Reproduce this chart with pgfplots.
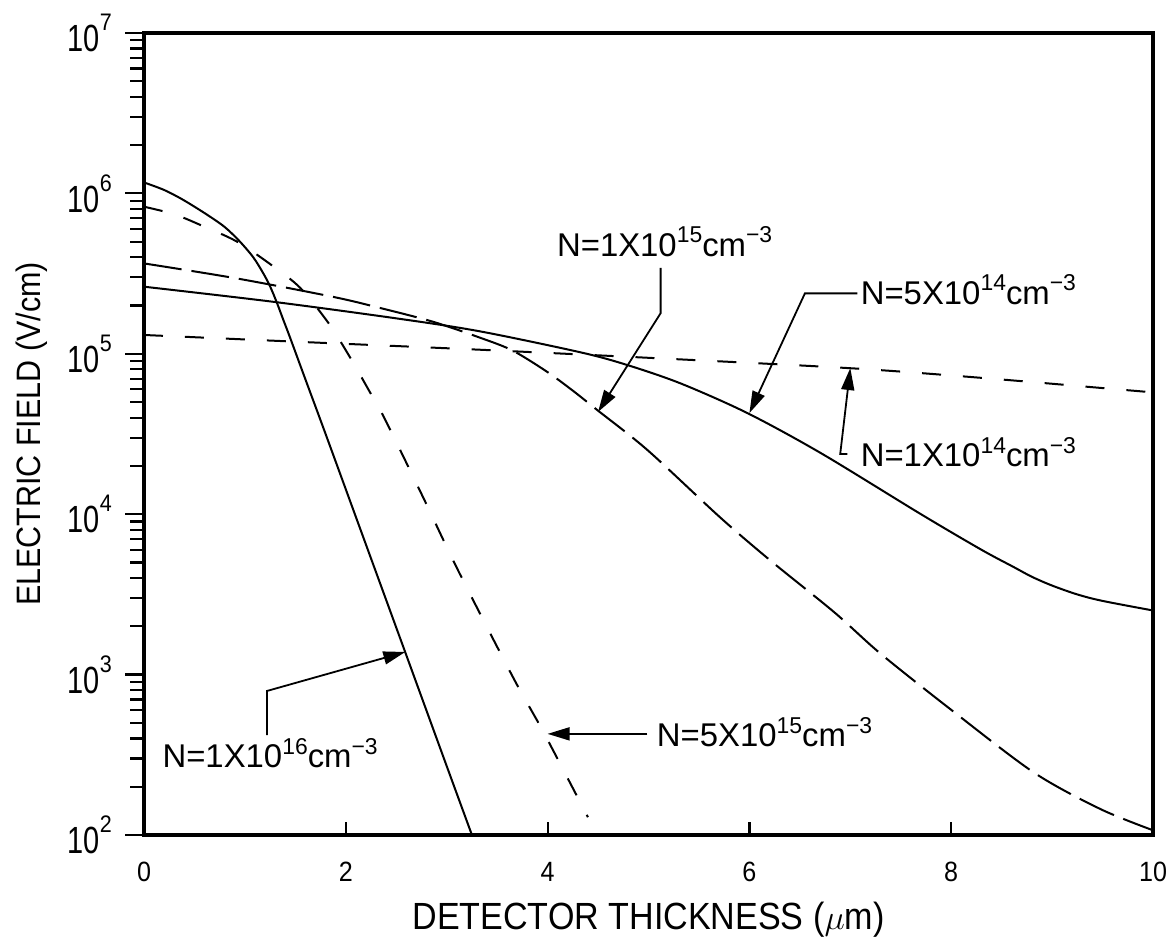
\documentclass[border=0pt]{standalone}
\usepackage{pgfplots}
\pgfplotsset{compat=1.18}
\usepackage{fontspec}
\setmainfont{Liberation Sans}[FakeStretch=0.9]
\newfontfamily\annotfont{Liberation Sans}
\usetikzlibrary{arrows.meta}
\tikzset{arr/.style={line width=0.9bp, -{Triangle[length=11bp,width=6.5bp]}}}
\newcommand{\supx}[1]{\raisebox{0.42em}{\fontsize{11.5}{12}\selectfont #1}}
\newcommand{\tp}[1]{\scalebox{0.85}[1]{10}\raisebox{10.5bp}{\fontsize{12}{12}\selectfont #1}}
\newcommand{\annot}{\annotfont\fontsize{16.5}{19}\selectfont}
\begin{document}
\begin{tikzpicture}
\begin{axis}[
  scale only axis, width=504.5bp, height=401bp,
  xmin=0, xmax=10, ymin=1e2, ymax=1e7, ymode=log,
  clip=false,
  axis line style={line width=1.7bp},
  every tick/.style={black, line width=1.1bp},
  xtick={0,2,4,6,8,10}, xticklabels={0,2,4,6,8,10},
  ytick={1e2,1e3,1e4,1e5,1e6,1e7},
  yticklabels={\tp{2},\tp{3},\tp{4},\tp{5},\tp{6},\tp{7}},
  xtick align=inside, ytick align=outside,
  xtick pos=left, ytick pos=left,
  major tick length=9.5bp, minor tick length=7bp,
  xtick style={/pgfplots/major tick length=6.5bp},
  xticklabel style={font=\fontsize{14}{16}\selectfont, yshift=-10.2bp},
  yticklabel style={font=\fontsize{19}{22}\selectfont, anchor=east, xshift=-3bp},
  xlabel={DETECTOR THICKNESS ($\mu$m)},
  ylabel={ELECTRIC FIELD (V/cm)},
  xlabel style={font=\fontsize{19}{22}\selectfont, at={(axis description cs:0.5,0)}, anchor=base, yshift=-47.5bp},
  ylabel style={font=\fontsize{17}{20}\selectfont, at={(axis description cs:-0.103,0.5)}, anchor=base},
]
% N = 1e16 (solid)
\addplot[black, line width=1bp, smooth, tension=0.5] coordinates {
(0,1.17e6) (0.2,1.05e6) (0.39,9.1e5) (0.62,7.4e5) (0.80,6.17e5) (0.95,5.01e5)
(1.085,3.98e5) (1.184,3.16e5) (1.25,2.63e5) (1.316,2.09e5) (1.382,1.62e5)
(1.448,1.26e5) (1.6,6.92e4) (1.8,3.16e4) (2.2,6.46e3)
(2.6,1.32e3) (3.0,269) (3.25,100)};
% N = 5e15 (short dashed)
\addplot[black, line width=1bp, smooth, tension=0.5, dash pattern=on 9.5bp off 11bp] coordinates {
(0,8.26e5) (0.3,7.41e5) (0.57,6.31e5) (0.92,5.01e5) (1.27,3.55e5) (1.55,2.57e5)
(1.83,1.55e5) (2.04,9.55e4) (2.24,5.75e4) (2.39,3.89e4) (2.77,1.26e4)
(3.12,4.37e3) (3.66,955) (3.96,437) (4.40,129)};
% N = 1e15 (long dashed)
\addplot[black, line width=1bp, smooth, tension=0.5, dash pattern=on 19bp off 5bp] coordinates {
(0,3.66e5) (0.92,2.95e5) (1.88,2.26e5) (2.37,1.91e5) (2.87,1.58e5) (3.33,1.26e5)
(3.65,1.05e5) (3.99,7.76e4) (4.25,5.89e4) (4.49,4.47e4) (4.99,2.51e4) (5.71,9.55e3)
(6.21,5.13e3) (6.84,2.45e3) (7.30,1.35e3) (8.0,603) (8.82,245) (9.48,145) (10,107)};
% N = 5e14 (solid)
\addplot[black, line width=1bp, smooth, tension=0.5] coordinates {
(0,2.62e5) (1.28,2.11e5) (2.51,1.66e5) (3.33,1.38e5) (4.33,1.02e5) (4.79,8.51e4)
(5.32,6.53e4) (5.98,4.27e4) (6.71,2.40e4) (7.70,1.0e4) (8.3,6.0e3) (8.62,4.68e3)
(8.8,4.07e3) (9.0,3.59e3) (9.25,3.16e3) (9.5,2.88e3) (10,2.51e3)};
% N = 1e14 (short dashed)
\addplot[black, line width=1bp, smooth, tension=0.5, dash pattern=on 9.5bp off 11bp] coordinates {
(0,1.31e5) (1.5,1.19e5) (3.33,1.06e5) (5.0,9.44e4) (7.0,8.13e4) (8.3,7.08e4)
(9.8,5.89e4) (10,5.75e4)};

% annotations
\draw[arr] (axis cs:5.12,3.43e5) -- (axis cs:5.12,1.79e5) -- (axis cs:4.50,4.34e4);
\node[anchor=base, font=\annot, inner sep=0pt] at (axis cs:5.16,4.07e5) {N=1X10\supx{15}cm\supx{−3}};

\draw[arr] (axis cs:7.07,2.38e5) -- (axis cs:6.55,2.38e5) -- (axis cs:6.0,4.27e4);
\node[anchor=base west, font=\annot, inner sep=0pt] at (axis cs:7.10,2.04e5) {N=5X10\supx{14}cm\supx{−3}};

\draw[arr] (axis cs:6.97,2.37e4) -- (axis cs:6.90,2.37e4) -- (axis cs:7.0,8.15e4);
\node[anchor=base west, font=\annot, inner sep=0pt] at (axis cs:7.10,1.97e4) {N=1X10\supx{14}cm\supx{−3}};

\draw[arr] (axis cs:4.99,427) -- (axis cs:4.0,427);
\node[anchor=base west, font=\annot, inner sep=0pt] at (axis cs:5.08,354) {N=5X10\supx{15}cm\supx{−3}};

\draw[arr] (axis cs:1.22,420) -- (axis cs:1.22,791) -- (axis cs:2.59,1384);
\node[anchor=base west, font=\annot, inner sep=0pt] at (axis cs:0.18,262) {N=1X10\supx{16}cm\supx{−3}};
\end{axis}
\pgfresetboundingbox
\path[use as bounding box] ([xshift=-72bp,yshift=-52.5bp]current axis.south west) rectangle ([xshift=11.5bp,yshift=16.5bp]current axis.north east);
\end{tikzpicture}
\end{document}
